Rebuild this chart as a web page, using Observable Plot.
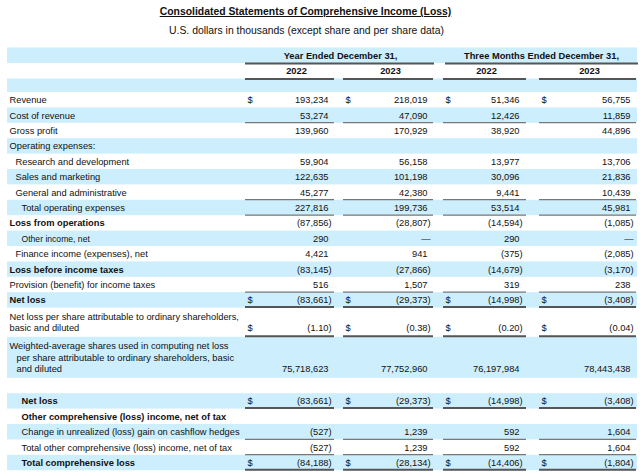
<!DOCTYPE html>
<html><head><meta charset="utf-8">
<script src="https://cdn.jsdelivr.net/npm/d3@7"></script>
<script src="https://cdn.jsdelivr.net/npm/@observablehq/plot@0.6"></script>
<style>
body{margin:0;background:#fff;font-family:"Liberation Sans",Arial,sans-serif;color:#111}
#head{position:relative;height:42px;width:640px}
#title{position:absolute;top:5px;left:0;width:611px;text-align:center;font-weight:bold;font-size:10.4px;line-height:14px;text-decoration:underline}
#subtitle{position:absolute;top:24px;left:0;width:613px;text-align:center;font-size:10.4px;line-height:14px}
</style>
</head><body>
<div id="head"><div id="title"></div><div id="subtitle"></div></div>
<div id="chart"></div>
<script>
// ---------- data ----------
const title = "Consolidated Statements of Comprehensive Income (Loss)";
const subtitle = "U.S. dollars in thousands (except share and per share data)";
const groupHeaders = ["Year Ended December 31,", "Three Months Ended December 31,"];
const years = ["2022", "2023", "2022", "2023"];
const rowLabels = [
  "Revenue", "Cost of revenue", "Gross profit", "Operating expenses:",
  "Research and development", "Sales and marketing", "General and administrative",
  "Total operating expenses", "Loss from operations", "Other income, net",
  "Finance income (expenses), net", "Loss before income taxes",
  "Provision (benefit) for income taxes", "Net loss",
  "Net loss per share attributable to ordinary shareholders,\nbasic and diluted",
  "Weighted-average shares used in computing net loss\nper share attributable to ordinary shareholders, basic\nand diluted",
  "",
  "Net loss", "Other comprehensive (loss) income, net of tax",
  "Change in unrealized (loss) gain on cashflow hedges",
  "Total other comprehensive (loss) income, net of tax", "Total comprehensive loss"
];
const fy2022 = [193234, 53274, 139960, null, 59904, 122635, 45277, 227816, -87856, 290, 4421, -83145, 516, -83661, -1.10, 75718623, null, -83661, null, -527, -527, -84188];
const fy2023 = [218019, 47090, 170929, null, 56158, 101198, 42380, 199736, -28807, 0, 941, -27866, 1507, -29373, -0.38, 77752960, null, -29373, null, 1239, 1239, -28134];
const q2022  = [51346, 12426, 38920, null, 13977, 30096, 9441, 53514, -14594, 290, -375, -14679, 319, -14998, -0.20, 76197984, null, -14998, null, 592, 592, -14406];
const q2023  = [56755, 11859, 44896, null, 13706, 21836, 10439, 45981, -1085, 0, -2085, -3170, 238, -3408, -0.04, 78443438, null, -3408, null, 1604, 1604, -1804];
const dollarSign = [1,0,0,0,0,0,0,0,0,0,0,0,0,1,1,0,0,1,0,0,0,1];

// ---------- styles / layout (not data) ----------
const indent  = [0,0,0,0,1,1,1,2,0,2,1,0,0,0,0,0,0,2,2,2,2,2];
const boldRow = [0,0,0,0,0,0,0,0,1,0,0,1,0,1,0,0,0,1,1,0,0,1];
const smallRow= [0,0,0,0,0,0,0,0,0,1,0,0,0,0,0,0,0,0,0,0,0,0];
const hangRow = [0,0,0,0,0,0,0,0,0,0,0,0,0,0,0,1,0,0,0,0,0,0];
const ruleBelow = ["","s","","","","","s","s","","","","","s","d","d","","","d","","s","s","d"];
const L = {
  svgTop: 42, svgH: 432, left: 7, right: 637,
  labelX: 9, indentStep: 6, hang: 7,
  rowH: 15.4, lineH: 11.8,
  headerBand: [47.5, 63], yearRow: [63, 78.5], spacer: [78.5, 92], bodyTop: 92,
  cols: [
    {line: [245, 334], dollar: 247, right: 328, mid: 296},
    {line: [343, 433], dollar: 345, right: 427, mid: 390},
    {line: [443, 526], dollar: 445, right: 519, mid: 486},
    {line: [539, 636], dollar: 541, right: 630, mid: 589}
  ],
  groups: [{line: [245, 434], mid: 340}, {line: [445, 638], mid: 541}],
  fs: 9.3, fsSmall: 8.6, blue: "#cdeefd", ink: "#111", ruleColor: "#777"
};

document.getElementById("title").textContent = title;
document.getElementById("subtitle").textContent = subtitle;

const series = [fy2022, fy2023, q2022, q2023];
let yy = L.bodyTop;
const rows = rowLabels.map((label, i) => {
  const lines = label.split("\n");
  const h = lines.length === 1 ? L.rowH : L.rowH + L.lineH * (lines.length - 1) + 2;
  const r = {i, label, lines, top: yy, bottom: yy + h};
  r.lastY = lines.length === 1 ? yy + L.rowH / 2 : yy + 8.5 + L.lineH * (lines.length - 1);
  yy += h;
  return r;
});

const bands = [
  {x1: L.left, x2: L.right, y1: L.headerBand[0], y2: L.headerBand[1]},
  {x1: L.left, x2: L.right, y1: L.spacer[0], y2: L.spacer[1]},
  ...rows.filter(r => r.i % 2 === 1).map(r => ({x1: L.left, x2: L.right, y1: r.top, y2: r.bottom}))
];

const labelLines = [];
rows.forEach(r => r.lines.forEach((t, k) => {
  if (!t) return;
  labelLines.push({
    text: t,
    x: L.labelX + indent[r.i] * L.indentStep + (k > 0 && hangRow[r.i] ? L.hang : 0),
    y: r.lines.length === 1 ? r.top + L.rowH / 2 : r.top + 8.5 + k * L.lineH,
    bold: boldRow[r.i], small: smallRow[r.i]
  });
}));

const num = v => Number.isInteger(v) ? d3.format(",")(Math.abs(v)) : d3.format(",.2f")(Math.abs(v));
const cells = [], parens = [], dollars = [];
rows.forEach(r => series.forEach((s, c) => {
  const v = s[r.i];
  if (v == null) return;
  const col = L.cols[c];
  if (v === 0) cells.push({x: col.right + 3, y: r.lastY, text: "—"});
  else if (v < 0) { cells.push({x: col.right, y: r.lastY, text: "(" + num(v)}); parens.push({x: col.right, y: r.lastY}); }
  else cells.push({x: col.right, y: r.lastY, text: num(v)});
  if (dollarSign[r.i]) dollars.push({x: col.dollar, y: r.lastY});
}));

const rules = [];
L.groups.forEach(g => { rules.push({x1: g.line[0], x2: g.line[1], y: L.headerBand[1], w: 2}); });
L.cols.forEach(col => rules.push({x1: col.line[0], x2: col.line[1], y: L.yearRow[1], w: 2}));
rows.forEach(r => {
  const k = ruleBelow[r.i];
  if (!k) return;
  L.cols.forEach(col => rules.push({x1: col.line[0], x2: col.line[1], y: r.bottom - (k === "d" ? 1 : 0.6), w: k === "d" ? 2 : 1}));
});
const headers = [
  ...groupHeaders.map((t, g) => ({x: L.groups[g].mid, y: (L.headerBand[0] + L.headerBand[1]) / 2, text: t})),
  ...years.map((t, c) => ({x: L.cols[c].mid, y: (L.yearRow[0] + L.yearRow[1]) / 2, text: t}))
];

const font = {fill: L.ink, lineAnchor: "middle"};
const chart = Plot.plot({
  width: 640, height: L.svgH, margin: 0,
  x: {type: "linear", domain: [0, 640], range: [0, 640], axis: null},
  y: {type: "linear", domain: [L.svgTop, L.svgTop + L.svgH], range: [0, L.svgH], axis: null},
  style: {fontFamily: "'Liberation Sans', Arial, sans-serif", background: "#fff"},
  marks: [
    Plot.rect(bands, {x1: "x1", x2: "x2", y1: "y1", y2: "y2", fill: L.blue}),
    Plot.ruleY(rules.filter(d => d.w === 1), {y: "y", x1: "x1", x2: "x2", stroke: L.ruleColor, strokeWidth: 1.2}),
    Plot.ruleY(rules.filter(d => d.w === 2), {y: "y", x1: "x1", x2: "x2", stroke: "#555", strokeWidth: 2}),
    Plot.text(headers, {x: "x", y: "y", text: "text", textAnchor: "middle", fontWeight: "bold", fontSize: L.fs, ...font}),
    Plot.text(labelLines.filter(d => !d.bold && !d.small), {x: "x", y: "y", text: "text", textAnchor: "start", fontSize: L.fs, ...font}),
    Plot.text(labelLines.filter(d => d.bold), {x: "x", y: "y", text: "text", textAnchor: "start", fontWeight: "bold", fontSize: L.fs, ...font}),
    Plot.text(labelLines.filter(d => d.small), {x: "x", y: "y", text: "text", textAnchor: "start", fontSize: L.fsSmall, ...font}),
    Plot.text(cells, {x: "x", y: "y", text: "text", textAnchor: "end", fontSize: L.fs, ...font}),
    Plot.text(parens, {x: "x", y: "y", text: () => ")", textAnchor: "start", fontSize: L.fs, ...font}),
    Plot.text(dollars, {x: "x", y: "y", text: () => "$", textAnchor: "start", fontSize: L.fs, ...font})
  ]
});
document.getElementById("chart").appendChild(chart);
</script>
</body></html>
